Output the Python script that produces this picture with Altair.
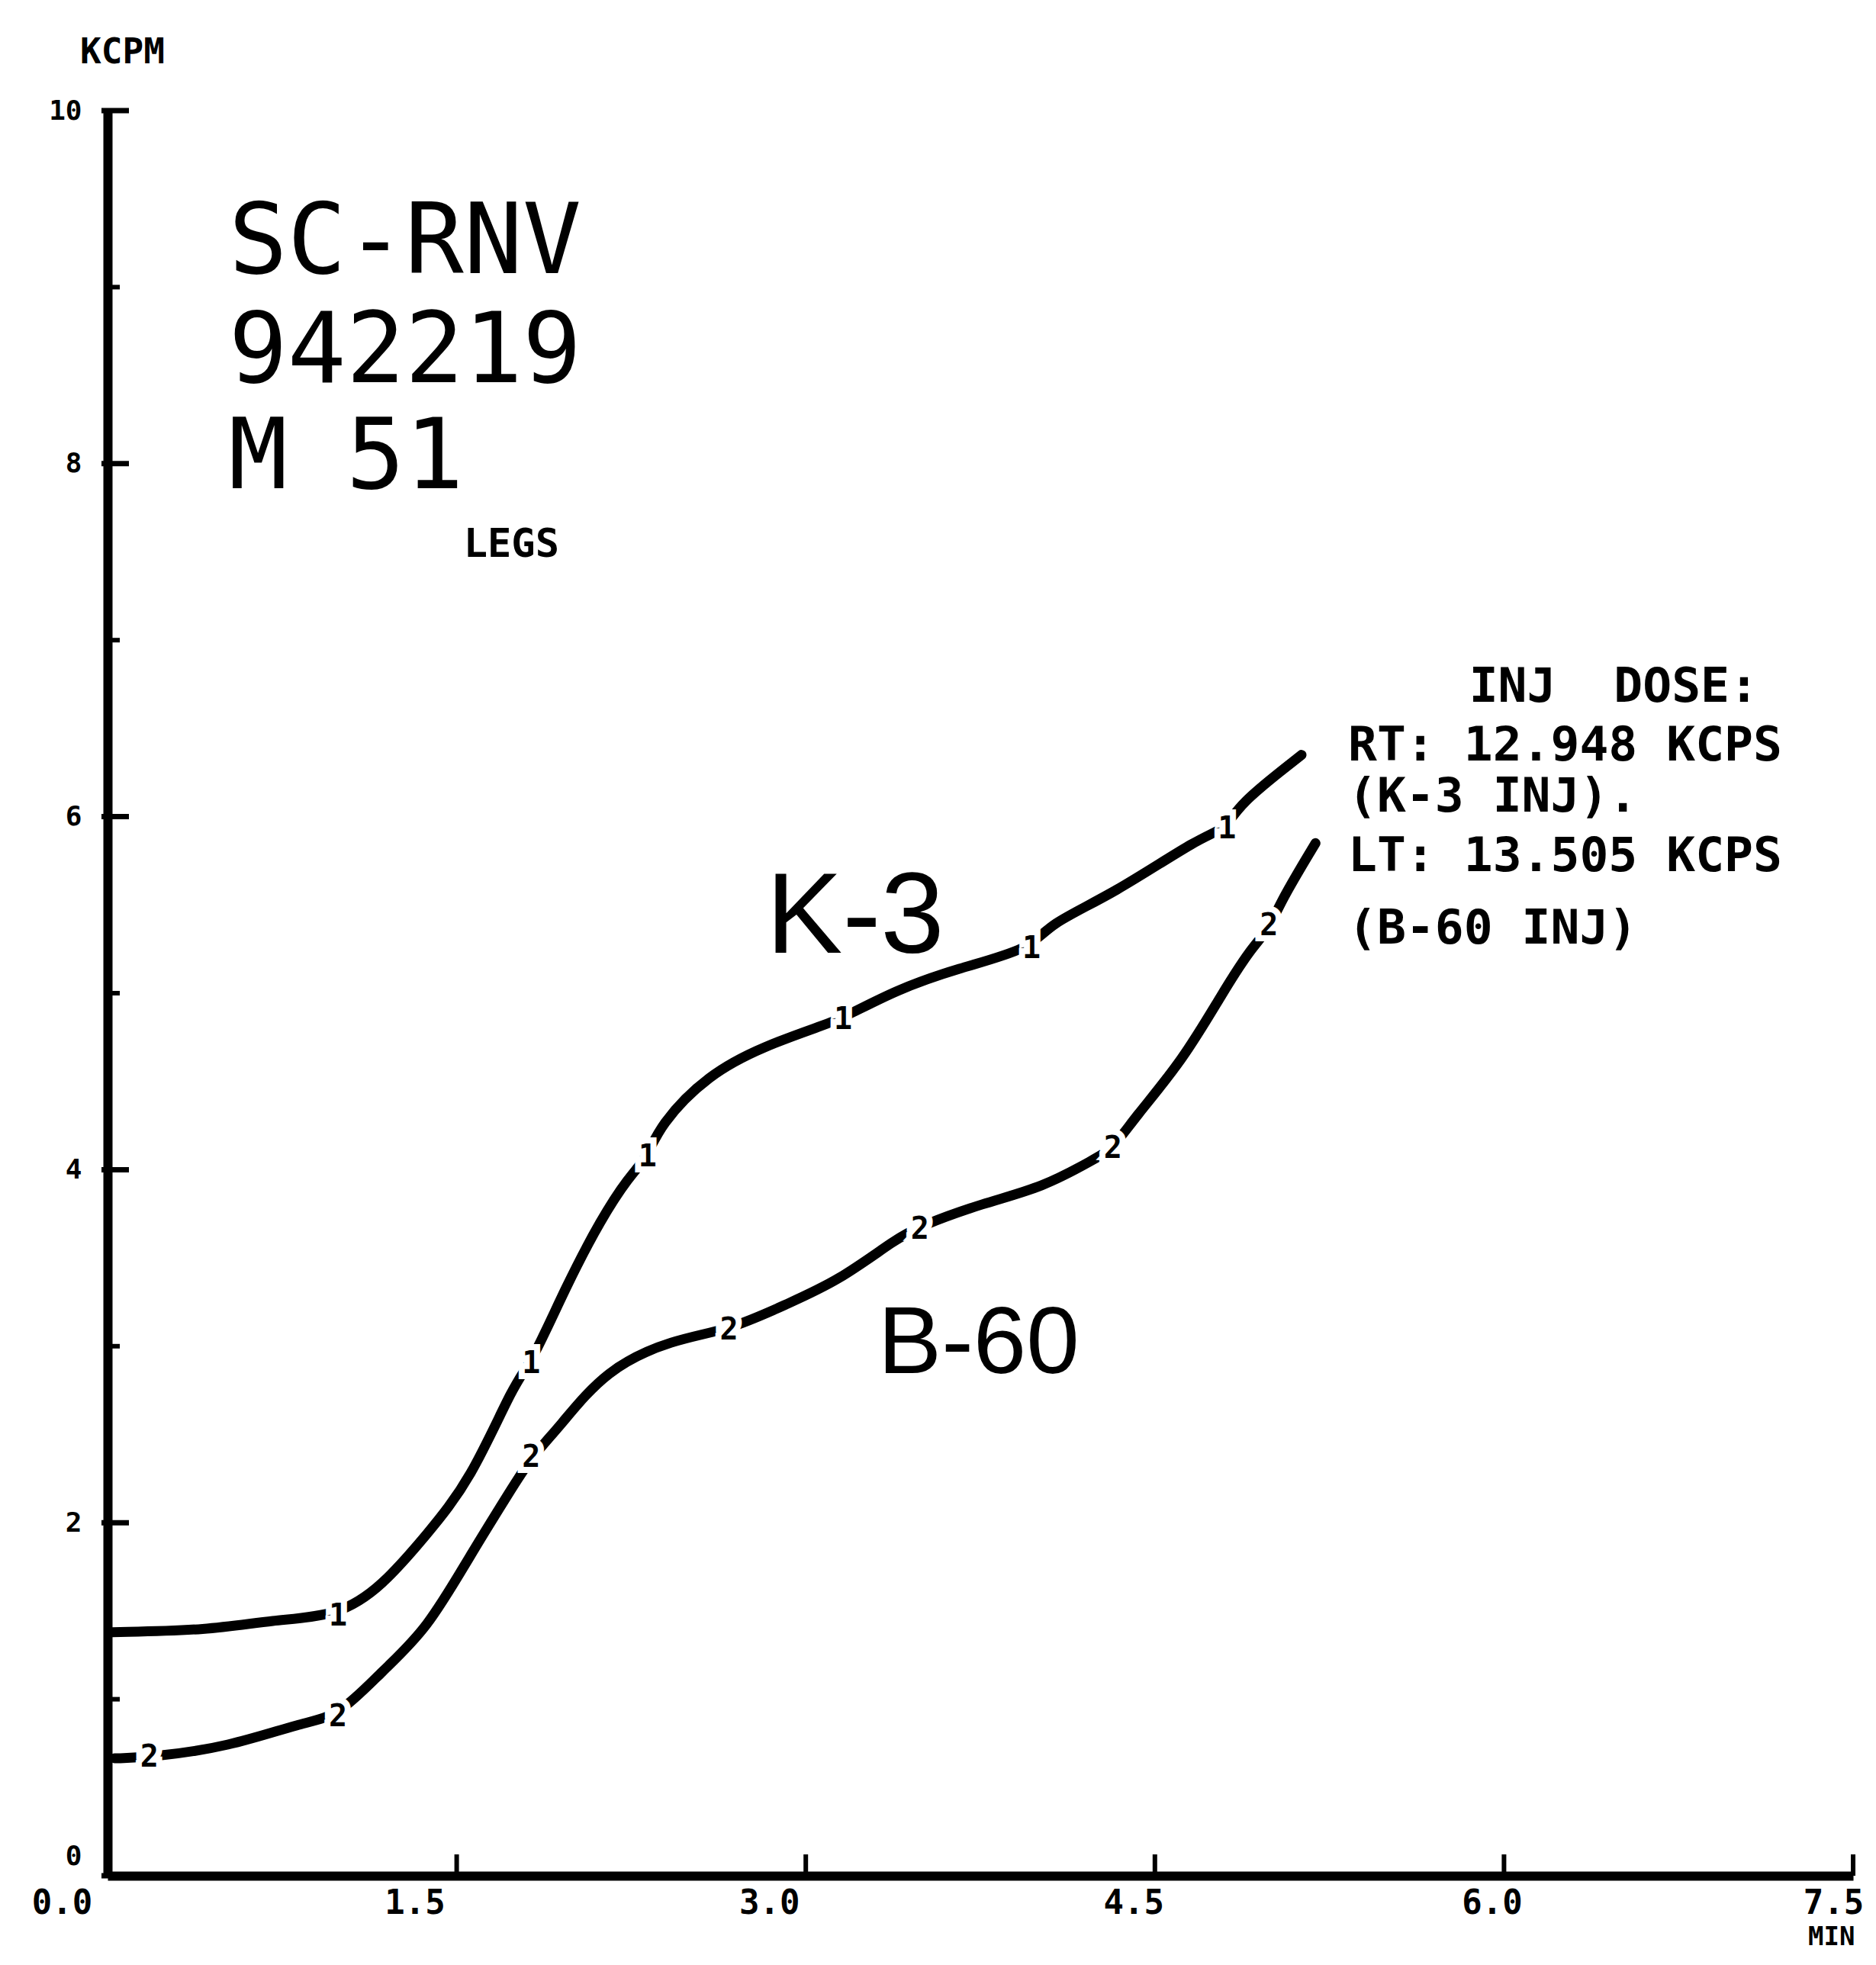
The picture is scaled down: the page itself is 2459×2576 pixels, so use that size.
import altair as alt
import pandas as pd

# ---- data ----
k3_t = [0.02, 0.43, 0.71, 0.99, 1.18, 1.37, 1.56, 1.75, 1.82, 1.97, 2.12, 2.24, 2.32, 2.37,
        2.58, 2.82, 3.08, 3.16, 3.39, 3.65, 3.97, 4.04, 4.32, 4.70, 4.81, 4.85, 5.13]
k3_v = [1.38, 1.39, 1.45, 1.47, 1.64, 1.93, 2.24, 2.80, 2.90, 3.34, 3.72, 3.96, 4.07, 4.25,
        4.54, 4.70, 4.82, 4.86, 5.02, 5.14, 5.25, 5.39, 5.56, 5.89, 5.93, 6.06, 6.35]
b60_t = [0.03, 0.18, 0.52, 0.84, 0.99, 1.18, 1.37, 1.56, 1.73, 1.82, 1.94, 2.14, 2.43, 2.67,
         2.92, 3.14, 3.39, 3.49, 3.76, 4.02, 4.24, 4.32, 4.41, 4.62, 4.79, 4.91, 4.99, 5.04, 5.19]
b60_v = [0.665, 0.67, 0.73, 0.87, 0.90, 1.16, 1.39, 1.82, 2.18, 2.37, 2.54, 2.87, 3.04, 3.09,
         3.24, 3.37, 3.61, 3.68, 3.81, 3.90, 4.06, 4.12, 4.29, 4.62, 5.00, 5.25, 5.36, 5.52, 5.85]

k3_mark_t = [0.99, 1.82, 2.32, 3.16, 3.97, 4.81]
k3_mark_v = [1.47, 2.90, 4.07, 4.85, 5.25, 5.93]
b60_mark_t = [0.18, 0.99, 1.82, 2.67, 3.49, 4.32, 4.99]
b60_mark_v = [0.67, 0.90, 2.37, 3.09, 3.66, 4.12, 5.38]

x_tick_values = [0.0, 1.5, 3.0, 4.5, 6.0, 7.5]
y_major = [0, 2, 4, 6, 8, 10]
y_minor = [1, 3, 5, 7, 9]

big_labels = ["SC-RNV", "942219", "M 51"]
big_t = [0.52, 0.52, 0.52]
big_v = [9.08, 8.46, 7.86]

small_label = ["LEGS"]
small_t = [1.53]
small_v = [7.47]

dose_lines = ["INJ\u00a0\u00a0DOSE:", "RT: 12.948 KCPS", "(K-3 INJ).", "LT: 13.505 KCPS", "(B-60 INJ)"]
dose_t = [5.85, 5.33, 5.33, 5.33, 5.33]
dose_v = [6.65, 6.32, 6.03, 5.69, 5.28]

hand_labels = ["K-3", "B-60"]
hand_t = [2.83, 3.31]
hand_v = [5.23, 2.85]
hand_size = [150, 125]

# ---- frames ----
curves = pd.concat([
    pd.DataFrame({"t": k3_t, "v": k3_v, "series": "K-3"}),
    pd.DataFrame({"t": b60_t, "v": b60_v, "series": "B-60"}),
])
marks = pd.concat([
    pd.DataFrame({"t": k3_mark_t, "v": k3_mark_v, "sym": "1"}),
    pd.DataFrame({"t": b60_mark_t, "v": b60_mark_v, "sym": "2"}),
])
big_df = pd.DataFrame({"t": big_t, "v": big_v, "label": big_labels})
small_df = pd.DataFrame({"t": small_t, "v": small_v, "label": small_label})
dose_df = pd.DataFrame({"t": dose_t, "v": dose_v, "label": dose_lines})
hand_df = pd.DataFrame({"t": hand_t, "v": hand_v, "label": hand_labels, "size": hand_size})
xt_df = pd.DataFrame({"t": x_tick_values})
ymaj_df = pd.DataFrame({"v": y_major})
ymin_df = pd.DataFrame({"v": y_minor})

W, H = 2288, 2314
MONO = "DejaVu Sans Mono"

xscale = alt.Scale(domain=[0, 7.5], nice=False, zero=False)
yscale = alt.Scale(domain=[0, 10], nice=False, zero=False)

x_label_offset = {
    "condition": [
        {"test": "datum.value < 1", "value": -60},
        {"test": "datum.value < 2", "value": -55},
        {"test": "datum.value < 3.5", "value": -48},
        {"test": "datum.value < 5", "value": -28},
        {"test": "datum.value < 6.5", "value": -16},
    ],
    "value": -26,
}
y_label_offset = {
    "condition": [{"test": "datum.value < 1", "value": -26}],
    "value": 0,
}

xaxis = alt.Axis(values=x_tick_values, format=".1f", grid=False, ticks=False,
                 domainColor="black", domainWidth=12, labelColor="black",
                 labelFont=MONO, labelFontWeight="bold", labelFontSize=44,
                 labelPadding=14, labelOffset=x_label_offset, labelFlush=False,
                 title="MIN", titleFont=MONO, titleFontWeight="bold", titleFontSize=34,
                 titleColor="black", titleAngle=0, titleAlign="right",
                 titleBaseline="middle", titleX=W + 2, titleY=80)
yaxis = alt.Axis(values=y_major, format="d", grid=False, ticks=False,
                 domainColor="black", domainWidth=12, labelColor="black",
                 labelFont=MONO, labelFontWeight="bold", labelFontSize=36,
                 labelPadding=34, labelOffset=y_label_offset, labelFlush=False,
                 title="KCPM", titleFont=MONO, titleFontWeight="bold", titleFontSize=46,
                 titleColor="black", titleAngle=0, titleAlign="center",
                 titleBaseline="middle", titleX=19, titleY=-77)

X = alt.X("t:Q", scale=xscale, axis=xaxis)
Y = alt.Y("v:Q", scale=yscale, axis=yaxis)

lines = alt.Chart(curves).mark_line(
    color="black", strokeWidth=13, interpolate="basis", strokeCap="round"
).encode(x=X, y=Y, detail="series:N")

halo = alt.Chart(marks).mark_text(
    font=MONO, fontWeight="bold", fontSize=40, color="white", stroke="white",
    strokeWidth=16, align="center", baseline="middle"
).encode(x=X, y=Y, text="sym:N")
glyph = alt.Chart(marks).mark_text(
    font=MONO, fontWeight="bold", fontSize=40, color="black",
    align="center", baseline="middle"
).encode(x=X, y=Y, text="sym:N")

xticks = alt.Chart(xt_df).mark_rule(color="black", strokeWidth=6).encode(
    x=X, y=alt.value(H), y2=alt.value(H - 28))
ymaj = alt.Chart(ymaj_df).mark_rule(color="black", strokeWidth=7).encode(
    y=Y, x=alt.value(-8), x2=alt.value(28))
ymin = alt.Chart(ymin_df).mark_rule(color="black", strokeWidth=6).encode(
    y=Y, x=alt.value(0), x2=alt.value(16))

big_text = alt.Chart(big_df).mark_text(
    font=MONO, fontSize=128, color="black", align="left", baseline="alphabetic"
).encode(x=X, y=Y, text="label:N")
small_text = alt.Chart(small_df).mark_text(
    font=MONO, fontWeight="bold", fontSize=52, color="black", align="left",
    baseline="alphabetic"
).encode(x=X, y=Y, text="label:N")
dose_text = alt.Chart(dose_df).mark_text(
    font=MONO, fontWeight="bold", fontSize=63, color="black", align="left",
    baseline="alphabetic"
).encode(x=X, y=Y, text="label:N")
hand_text = alt.Chart(hand_df).mark_text(
    font="Liberation Sans", color="black", align="left", baseline="alphabetic"
).encode(x=X, y=Y, text="label:N",
         size=alt.Size("size:Q", scale=None, legend=None))

chart = alt.layer(
    lines, halo, glyph, xticks, ymaj, ymin, big_text, small_text, dose_text, hand_text
).properties(
    width=W, height=H,
    autosize=alt.AutoSizeParams(type="none"),
    padding={"left": 133, "top": 137, "right": 22, "bottom": 106},
    background="white",
).configure_view(stroke=None)

chart.save("out.html", embed_options={"renderer": "svg", "actions": False})
